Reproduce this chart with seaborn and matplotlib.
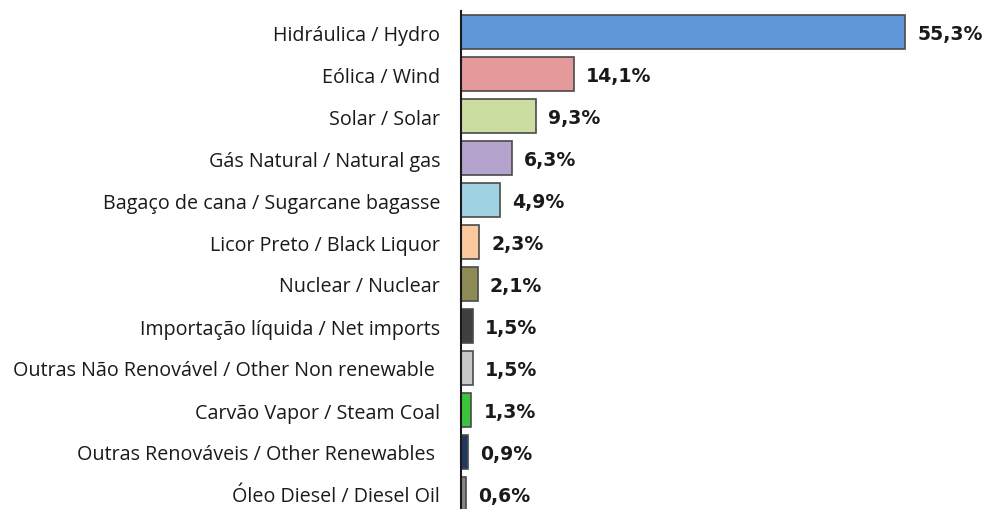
import matplotlib
matplotlib.use("Agg")
import matplotlib.pyplot as plt
import seaborn as sns
import pandas as pd

categories = [
    "Hidráulica / Hydro",
    "Eólica / Wind",
    "Solar / Solar",
    "Gás Natural / Natural gas",
    "Bagaço de cana / Sugarcane bagasse",
    "Licor Preto / Black Liquor",
    "Nuclear / Nuclear",
    "Importação líquida / Net imports",
    "Outras Não Renovável / Other Non renewable ",
    "Carvão Vapor / Steam Coal",
    "Outras Renováveis / Other Renewables ",
    "Óleo Diesel / Diesel Oil",
]
values = [55.3, 14.1, 9.3, 6.3, 4.9, 2.3, 2.1, 1.5, 1.5, 1.3, 0.9, 0.6]
labels = ["55,3%", "14,1%", "9,3%", "6,3%", "4,9%", "2,3%", "2,1%", "1,5%", "1,5%", "1,3%", "0,9%", "0,6%"]
colors = ["#5F97D8", "#E49A9B", "#CBDDA0", "#B3A3CD", "#9FD3E1", "#FBC89B",
          "#8E8A55", "#404040", "#C8C8C8", "#3CC43C", "#1F3A5E", "#858585"]

sns.set_style("white")
plt.rcParams['font.family'] = ['Open Sans', 'DejaVu Sans']

df = pd.DataFrame({"cat": categories, "val": values})
fig = plt.figure(figsize=(9.86, 5.10), dpi=100)
ax = fig.add_axes([461/986, 0.0, 1 - 461/986, 1 - 12/510])

sns.barplot(data=df, y="cat", x="val", hue="cat", palette=dict(zip(categories, colors)),
            order=categories, orient="h", width=0.79, edgecolor="#4a4a4a", linewidth=1.2,
            legend=False, ax=ax, saturation=1)

for i, (v, t) in enumerate(zip(values, labels)):
    ax.text(v + 1.5, i + 0.03, t, va="center", ha="left", fontsize=13.6, fontweight="bold",
            color="#1a1a1a", family="DejaVu Sans")

ax.set_xlim(0, (986 - 461) / 8.03)
ax.set_ylim((510 - 33) / 42, -0.5)
ax.set_xlabel("")
ax.set_ylabel("")
ax.set_xticks([])
for s in ["top", "right", "bottom"]:
    ax.spines[s].set_visible(False)
ax.spines["left"].set_color("#1a1a1a")
ax.spines["left"].set_linewidth(1.5)
ax.tick_params(axis="y", length=0, pad=15, labelsize=14.2, labelcolor="#1a1a1a")

fig.savefig("out.png", dpi=100)
